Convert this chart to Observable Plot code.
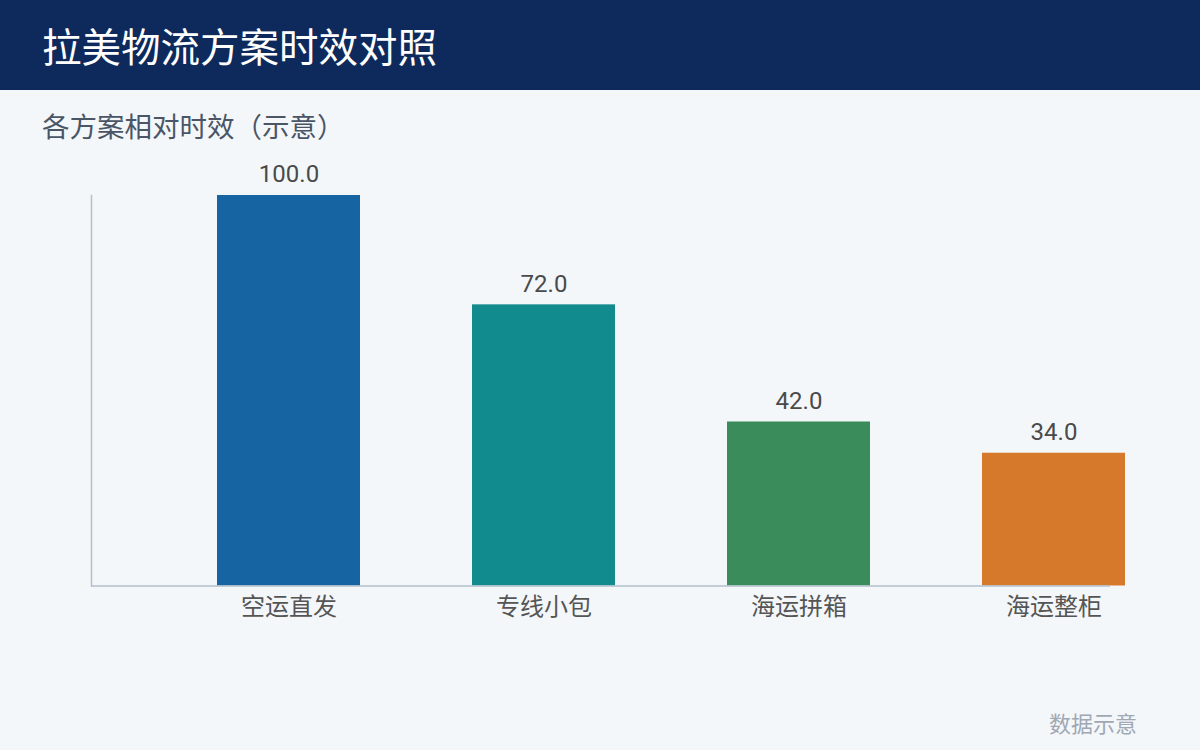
<!DOCTYPE html>
<html>
<head>
<meta charset="utf-8">
<script src="https://cdn.jsdelivr.net/npm/d3@7"></script>
<script src="https://cdn.jsdelivr.net/npm/@observablehq/plot@0.6"></script>
<style>
  html, body { margin: 0; padding: 0; }
  body { width: 1200px; height: 750px; background: #f4f7fa; font-family: "Noto Sans CJK SC", "Noto Sans", sans-serif; position: relative; overflow: hidden; }
  #header { position: absolute; left: 0; top: 0; width: 1200px; height: 90px; background: #0e2a5c; }
  #title { position: absolute; left: 42px; top: 0; height: 90px; line-height: 90px; color: #ffffff; font-size: 39.5px; white-space: nowrap; }
  #subtitle { position: absolute; left: 42px; top: 107px; line-height: 36px; color: #4a5566; font-size: 27.5px; white-space: nowrap; }
  #chart { position: absolute; left: 0; top: 140px; }
  #footer { position: absolute; right: 63px; top: 706px; line-height: 32px; color: #a0a8b3; font-size: 22px; white-space: nowrap; }
</style>
</head>
<body>
<div id="header"><div id="title">拉美物流方案时效对照</div></div>
<div id="subtitle">各方案相对时效（示意）</div>
<div id="chart"></div>
<div id="footer">数据示意</div>
<script>
const categories = ["空运直发", "专线小包", "海运拼箱", "海运整柜"];
const values = [100.0, 72.0, 42.0, 34.0];
const colors = ["#1764a3", "#128b8f", "#3a8c5a", "#d7792a"];

const data = categories.map((c, i) => ({cat: c, value: values[i], color: colors[i]}));

const chart = Plot.plot({
  width: 1200,
  height: 530,
  marginTop: 55,
  marginBottom: 84.5,
  marginLeft: 91,
  marginRight: 90,
  style: {background: "transparent", fontFamily: "'Noto Sans CJK SC', sans-serif"},
  x: {domain: categories, range: [217, 1125], paddingInner: 0.44, paddingOuter: 0},
  y: {domain: [0, 100]},
  marks: [
    Plot.barY(data, {x: "cat", y: "value", fill: "color"}),
    Plot.ruleY([0], {stroke: "#b3bfcc", strokeWidth: 1.5}),
    Plot.frame({anchor: "left", stroke: "#b3bfcc", strokeWidth: 1.5}),
    Plot.text(data, {x: "cat", y: "value", text: d => d.value.toFixed(1), dy: -21, lineAnchor: "middle", fontSize: 24, fill: "#4a4a4a", fontFamily: "Roboto, sans-serif", letterSpacing: "0.5px"}),
    Plot.axisX({tickSize: 0, tickPadding: 12, fontSize: 24, color: "#555555", label: null}),
    Plot.axisY({ticks: [], label: null})
  ]
});
document.getElementById("chart").appendChild(chart);
</script>
</body>
</html>
